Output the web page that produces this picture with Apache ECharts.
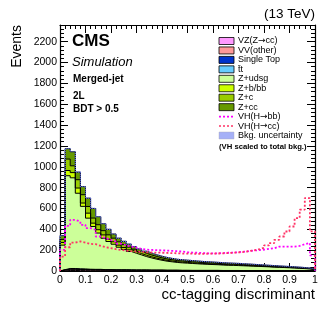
<!DOCTYPE html>
<html><head><meta charset="utf-8">
<script src="https://cdn.jsdelivr.net/npm/echarts@6/dist/echarts.min.js"></script>
<style>html,body{margin:0;padding:0;background:#fff}#c{width:332px;height:319px}</style>
</head><body><div id="c"></div>
<script>
// bin edges of the cc-tagging discriminant (50 bins)
const binEdges = [0,0.02,0.04,0.06,0.08,0.1,0.12,0.14,0.16,0.18,0.2,0.22,0.24,0.26,0.28,0.3,0.32,0.34,0.36,0.38,0.4,0.42,0.44,0.46,0.48,0.5,0.52,0.54,0.56,0.58,0.6,0.62,0.64,0.66,0.68,0.7,0.72,0.74,0.76,0.78,0.8,0.82,0.84,0.86,0.88,0.9,0.92,0.94,0.96,0.98,1.0];
const xTicks = [0,0.1,0.2,0.3,0.4,0.5,0.6,0.7,0.8,0.9,1];
const yTicks = [0,200,400,600,800,1000,1200,1400,1600,1800,2000,2200];

const vzcc = [2,5,5,4,4,3,3,3,2,2, 2,2,2,2,2,2,2,2,2,2, 1,1,1,1,1,1,1,1,1,1, 1,0,0,0,0,0,0,0,0,0, 1,0,0,0,0,0,0,0,0,0];
const vvOther = [8,12,12,11,10,9,8,8,7,7, 6,6,6,5,5,5,5,4,4,4, 4,4,4,3,3,3,3,3,3,3, 3,3,3,3,3,2,2,2,2,2, 2,2,2,2,2,2,1,1,1,1];
const singleTop = [0,1,1,1,1,1,1,1,1,1, 1,1,1,1,1,1,1,1,1,1, 1,1,1,1,1,1,1,1,1,1, 1,1,1,1,1,1,1,1,1,1, 0,0,0,0,0,0,0,0,0,0];
const ttbar = [3,6,6,5,5,4,4,4,3,3, 3,3,3,3,2,2,2,2,2,2, 2,2,2,2,2,1,1,1,1,1, 1,1,1,1,1,1,1,1,1,1, 1,1,1,1,1,1,1,1,1,1];
const zudsg = [235,890,870,725,600,490,411,348,301,270, 245,216,195,176,160,144,128,116,104,94, 86,80,74,71,68,66,63,60,58,56, 54,52,50,49,47,46,44,42,40,38, 36,34,32,30,28,26,24,21,18,12];
const zb = [25,50,50,50,32,48,32,32,32,22, 23,20,18,16,15,13,12,11,10,9, 8,8,7,7,7,6,6,6,6,5, 5,5,5,5,5,4,4,4,4,4, 3,3,3,3,3,2,2,2,2,1];
const zc = [30,110,65,80,80,64,49,48,41,42, 35,32,28,26,24,21,19,17,16,14, 13,12,11,11,10,10,10,9,9,9, 8,8,8,7,7,7,7,6,6,5, 5,5,5,4,4,4,4,3,3,2];
const zcc = [37,100,135,73,78,80,92,77,67,53, 40,35,32,29,26,24,21,19,17,16, 15,13,13,12,12,12,11,11,10,10, 10,10,9,9,9,9,8,8,7,7, 7,7,6,6,5,5,5,5,3,3];
const vhbb = [202,433,491,475,443,411,395,331,315,299, 283,262,245,234,225,212,205,202,200,198, 196,193,190,186,180,177,175,172,170,170, 170,172,175,177,180,185,190,196,200,205, 212,218,234,234,234,234,241,257,268,150];
const vhcc = [138,228,273,283,273,260,257,241,228,219, 209,202,196,190,186,183,180,178,176,175, 173,172,170,168,167,166,165,165,166,167, 168,170,172,175,178,183,190,198,208,222, 245,267,299,331,379,427,508,588,700,380];

const comps = [
  {name:'VZ(Z\u2192cc)', vals:vzcc, color:'#ff99ff'},
  {name:'VV(other)', vals:vvOther, color:'#ff9999'},
  {name:'Single Top', vals:singleTop, color:'#0033cc'},
  {name:'t\u0304t', vals:ttbar, color:'#66ccff'},
  {name:'Z+udsg', vals:zudsg, color:'#ccff99'},
  {name:'Z+b/bb', vals:zb, color:'#ccff00'},
  {name:'Z+c', vals:zc, color:'#99cc00'},
  {name:'Z+cc', vals:zcc, color:'#669900'}
];

function stepData(vals){
  const d=[[binEdges[0],0]];
  for(let i=0;i<vals.length;i++) d.push([binEdges[i],vals[i]]);
  d.push([binEdges[vals.length],vals[vals.length-1]]);
  d.push([binEdges[vals.length],0]);
  return d;
}
const cums=[]; let run=binEdges.slice(0,50).map(()=>0);
comps.forEach(c=>{ run=run.map((v,i)=>v+c.vals[i]); cums.push(run.slice()); });

const series=[];
for(let k=comps.length-1;k>=0;k--){
  series.push({type:'line', step:'end', symbol:'none', silent:true, data:stepData(cums[k]),
    lineStyle:{color:'#000', width:1}, areaStyle:{color:comps[k].color, opacity:1, origin:'start'}, z:2});
}
const total = cums[cums.length-1];
series.push({type:'line', step:'end', symbol:'none', silent:true, data:stepData(total),
  lineStyle:{color:'#6677ff', width:1.2, type:[1,1]}, z:3});
series.push({type:'line', step:'end', symbol:'none', silent:true, data:stepData(vhbb),
  lineStyle:{color:'#ff00ff', width:1.8, type:[2,2]}, z:4});
series.push({type:'line', step:'end', symbol:'none', silent:true, data:stepData(vhcc),
  lineStyle:{color:'#ff3366', width:1.8, type:[2,2]}, z:4});

const FF='Liberation Sans, Arial, Helvetica, DejaVu Sans, sans-serif';
const axisCommon = {axisLine:{show:true,onZero:false,lineStyle:{color:'#000',width:1.2}}, splitLine:{show:false}};

const legRows = [
  {t:'{a|VZ(Z}{b|\u2192}{a|cc)}', kind:'box', c:'#ff99ff'},
  {t:'VV(other)', kind:'box', c:'#ff9999'},
  {t:'Single Top', kind:'box', c:'#0033cc'},
  {t:'t\u0304t', kind:'box', c:'#66ccff'},
  {t:'Z+udsg', kind:'box', c:'#ccff99'},
  {t:'Z+b/bb', kind:'box', c:'#ccff00'},
  {t:'Z+c', kind:'box', c:'#99cc00'},
  {t:'Z+cc', kind:'box', c:'#669900'},
  {t:'{a|VH(H}{b|\u2192}{a|bb)}', kind:'line', c:'#ff00ff'},
  {t:'{a|VH(H}{b|\u2192}{a|cc)}', kind:'line', c:'#ff3366'},
  {t:'Bkg. uncertainty', kind:'hatch', c:'#8f9cf5'}
];
const graphics=[];
legRows.forEach((r,i)=>{
  const y = 41 + i*9.45;
  if(r.kind==='box') graphics.push({type:'rect', shape:{x:219,y:y-3.5,width:15,height:7}, style:{fill:r.c, stroke:'#000', lineWidth:0.8}, z:10});
  else if(r.kind==='line') graphics.push({type:'line', shape:{x1:219,y1:y,x2:234,y2:y}, style:{stroke:r.c, lineWidth:1.6, lineDash:[2,2]}, z:10});
  else graphics.push({type:'rect', shape:{x:219,y:y-3.5,width:15,height:7}, style:{fill:r.c, stroke:'#aab', lineWidth:0.5, opacity:0.8}, z:10});
  graphics.push({type:'text', x:238, y:y, style:{text:r.t, font:'9px '+FF, fill:'#000', verticalAlign:'middle', align:'left',
    rich:{a:{fontSize:9, fontFamily:FF, fill:'#000'}, b:{fontSize:9, fontFamily:'DejaVu Sans', fill:'#000'}}}, z:10});
});
graphics.push({type:'text', x:219, y:147, style:{text:'(VH scaled to total bkg.)', font:'bold 7.7px '+FF, fill:'#000', verticalAlign:'middle'}, z:10});
graphics.push({type:'text', x:72, y:41, style:{text:'CMS', font:'bold 17px '+FF, fill:'#000', verticalAlign:'middle'}, z:10});
graphics.push({type:'text', x:72, y:62.5, style:{text:'Simulation', font:'italic 13px '+FF, fill:'#000', verticalAlign:'middle'}, z:10});
graphics.push({type:'text', x:73, y:79.7, style:{text:'Merged-jet', font:'bold 10px '+FF, fill:'#000', verticalAlign:'middle'}, z:10});
graphics.push({type:'text', x:73, y:96, style:{text:'2L', font:'bold 10px '+FF, fill:'#000', verticalAlign:'middle'}, z:10});
graphics.push({type:'text', x:73, y:109.7, style:{text:'BDT > 0.5', font:'bold 10px '+FF, fill:'#000', verticalAlign:'middle'}, z:10});
graphics.push({type:'text', x:315, y:14, style:{text:'(13 TeV)', font:'13.5px '+FF, fill:'#000', verticalAlign:'middle', align:'right'}, z:10});
graphics.push({type:'text', x:315, y:295, style:{text:'cc-tagging discriminant', font:'15px '+FF, fill:'#000', verticalAlign:'middle', align:'right'}, z:10});
graphics.push({type:'text', x:17.5, y:25, rotation:Math.PI/2, style:{text:'Events', font:'14px '+FF, fill:'#000', verticalAlign:'middle', align:'right'}, z:10});

const chart = echarts.init(document.getElementById('c'), null, {renderer:'canvas'});
chart.setOption({
  animation:false,
  backgroundColor:'#fff',
  grid:{left:60,right:17,top:25,bottom:48,containLabel:false},
  xAxis:[
    Object.assign({type:'value', min:xTicks[0], max:xTicks[xTicks.length-1], interval:0.1, position:'bottom',
      axisTick:{show:true,inside:true,length:8,lineStyle:{color:'#000'}},
      minorTick:{show:true,splitNumber:5,length:4,lineStyle:{color:'#000'}},
      axisLabel:{show:true,margin:4,fontSize:10.5,fontFamily:FF,color:'#000',formatter:v=>String(v)}}, axisCommon),
    Object.assign({type:'value', min:0, max:1, interval:0.1, position:'top',
      axisTick:{show:true,inside:true,length:8,lineStyle:{color:'#000'}},
      minorTick:{show:true,splitNumber:5,length:4,lineStyle:{color:'#000'}},
      axisLabel:{show:false}}, axisCommon)
  ],
  yAxis:[
    Object.assign({type:'value', min:yTicks[0], max:2360, interval:200, position:'left',
      axisTick:{show:true,inside:true,length:8,lineStyle:{color:'#000'}},
      minorTick:{show:true,splitNumber:5,length:4,lineStyle:{color:'#000'}},
      axisLabel:{show:true,margin:3,fontSize:10.5,fontFamily:FF,color:'#000',showMaxLabel:false,formatter:v=>String(v)}}, axisCommon),
    Object.assign({type:'value', min:0, max:2360, interval:200, position:'right',
      axisTick:{show:true,inside:true,length:8,lineStyle:{color:'#000'}},
      minorTick:{show:true,splitNumber:5,length:4,lineStyle:{color:'#000'}},
      axisLabel:{show:false}}, axisCommon)
  ],
  series:series,
  graphic:graphics
});
</script></body></html>
